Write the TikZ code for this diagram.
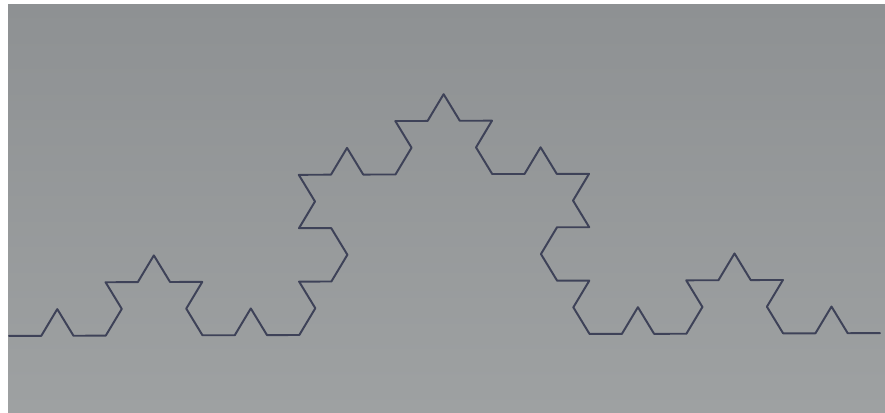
\documentclass[tikz,border=0pt]{standalone}
\usepackage{xcolor}
\usepackage{tikz}
\usetikzlibrary{decorations.fractals}
\definecolor{papertop}{RGB}{142,145,147}
\definecolor{papermid}{RGB}{156,160,161}
\definecolor{paperbot}{RGB}{158,161,162}
\definecolor{inkblue}{RGB}{62,66,88}
\tikzset{
  paperbg/.style={top color=papertop, middle color=papermid, bottom color=paperbot},
  kochpen/.style={draw=inkblue, line width=2pt, line join=round, line cap=round,
    decoration={Koch snowflake}}
}
\begin{document}
\begin{tikzpicture}[x=1pt,y=1pt]
  \useasboundingbox (0,-77) rectangle (885,335);
  % photo frame: white strip left and top, grey paper
  \fill[white] (0,-77) rectangle (885,335);
  \shade[paperbg] (8,-77) rectangle (885,330);
  % end points of the curve (order 3)
  \coordinate (kstart) at (9,-1);
  \coordinate (kend) at (880,2);
  \draw[kochpen, transform canvas={yscale=0.956}] decorate{decorate{decorate{(kstart) -- (kend)}}};
\end{tikzpicture}
\end{document}
